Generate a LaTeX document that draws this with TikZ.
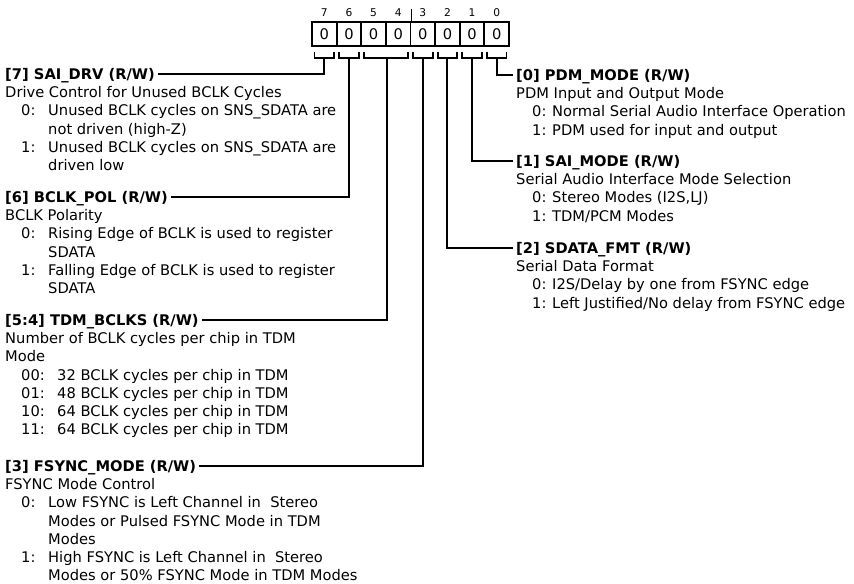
\documentclass[tikz,border=0pt]{standalone}
\usepackage{fontspec}
\setmainfont{DejaVu Sans}
\usetikzlibrary{positioning,calc}

% one register field: first line spans both columns, then "n: text" rows
\newcommand{\bitdesc}[2]{\begin{tabular}[t]{@{\hspace{12pt}}p{#1}@{}l@{}}#2\end{tabular}}
\newcommand{\first}[1]{\multicolumn{2}{@{}l@{}}{#1}}

\tikzset{
  hdr/.style={font=\fontsize{11}{13.7}\selectfont\bfseries,inner xsep=2pt,inner ysep=0pt,text height=8pt,text depth=0pt},
  desc/.style={font=\fontsize{11}{13.7}\selectfont,inner xsep=2pt,inner ysep=0pt,anchor=base west},
  cell/.style={draw,line width=1.4pt,minimum width=18.47pt,minimum height=18pt,inner sep=0pt,font=\fontsize{11}{12}\selectfont},
  bitno/.style={font=\fontsize{8}{9}\selectfont,inner sep=0pt},
  wire/.style={line width=1.4pt}
}

\begin{document}
\begin{tikzpicture}[x=0.75pt,y=-0.75pt]
\useasboundingbox (0,0) rectangle (854,584);

% register cells and bit numbers
\foreach \b [count=\i from 0] in {7,6,5,4,3,2,1,0}{
  \node[cell] (c\b) at ({324.3+\i*24.625},34) {0};
  \node[bitno,above=3pt of c\b] (n\b) {\b};
}
\draw[line width=1pt] (c4.north east) -- ++(0,-12);

% brackets under the cells
\foreach \b in {7,6,3,2,1,0}{
  \draw[wire] ([xshift=2.6pt,yshift=-3.5pt]c\b.south west) |- ([yshift=-8.25pt]c\b.south) coordinate (s\b) -| ([xshift=-2.6pt,yshift=-3.5pt]c\b.south east);
}
\draw[wire] ([xshift=2.6pt,yshift=-3.5pt]c5.south west) |- ([yshift=-8.25pt]c5.south east) coordinate (s54) -| ([xshift=-2.6pt,yshift=-3.5pt]c4.south east);

% left fields
\node[hdr,anchor=west] (h7) at (2.3,74) {[7] SAI\_DRV (R/W)};
\node[desc] (d7) at ([yshift=-13.7pt]h7.base west) {\bitdesc{20.25pt}{
  \first{Drive Control for Unused BCLK Cycles}\\
  0: & Unused BCLK cycles on SNS\_SDATA are\\
     & not driven (high-Z)\\
  1: & Unused BCLK cycles on SNS\_SDATA are\\
     & driven low}};

\node[hdr,anchor=west] (h6) at (2.3,197) {[6] BCLK\_POL (R/W)};
\node[desc] (d6) at ([yshift=-13.7pt]h6.base west) {\bitdesc{20.25pt}{
  \first{BCLK Polarity}\\
  0: & Rising Edge of BCLK is used to register\\
     & SDATA\\
  1: & Falling Edge of BCLK is used to register\\
     & SDATA}};

\node[hdr,anchor=west] (h54) at (2.3,320) {[5:4] TDM\_BCLKS (R/W)};
\node[desc] (d54) at ([yshift=-13.7pt]h54.base west) {\bitdesc{27pt}{
  \first{Number of BCLK cycles per chip in TDM}\\
  \first{Mode}\\
  00: & 32 BCLK cycles per chip in TDM\\
  01: & 48 BCLK cycles per chip in TDM\\
  10: & 64 BCLK cycles per chip in TDM\\
  11: & 64 BCLK cycles per chip in TDM}};

\node[hdr,anchor=west] (h3) at (2.3,466) {[3] FSYNC\_MODE (R/W)};
\node[desc] (d3) at ([yshift=-13.7pt]h3.base west) {\bitdesc{20.25pt}{
  \first{FSYNC Mode Control}\\
  0: & Low FSYNC is Left Channel in \ Stereo\\
     & Modes or Pulsed FSYNC Mode in TDM\\
     & Modes\\
  1: & High FSYNC is Left Channel in \ Stereo\\
     & Modes or 50\% FSYNC Mode in TDM Modes}};

% right fields
\node[hdr,anchor=west] (h0) at (513.3,75) {[0] PDM\_MODE (R/W)};
\node[desc] (d0) at ([yshift=-13.7pt]h0.base west) {\bitdesc{15pt}{
  \first{PDM Input and Output Mode}\\
  0: & Normal Serial Audio Interface Operation\\
  1: & PDM used for input and output}};

\node[hdr,anchor=west] (h1) at (513.3,161) {[1] SAI\_MODE (R/W)};
\node[desc] (d1) at ([yshift=-13.7pt]h1.base west) {\bitdesc{15pt}{
  \first{Serial Audio Interface Mode Selection}\\
  0: & Stereo Modes (I2S,LJ)\\
  1: & TDM/PCM Modes}};

\node[hdr,anchor=west] (h2) at (513.3,248) {[2] SDATA\_FMT (R/W)};
\node[desc] (d2) at ([yshift=-13.7pt]h2.base west) {\bitdesc{15pt}{
  \first{Serial Data Format}\\
  0: & I2S/Delay by one from FSYNC edge\\
  1: & Left Justified/No delay from FSYNC edge}};

% leaders from the brackets to the fields
\draw[wire] (s7) |- (h7.east);
\draw[wire] (s6) |- (h6.east);
\draw[wire] (s54) |- (h54.east);
\draw[wire] (s3) |- (h3.east);
\draw[wire] (s2) |- (h2.west);
\draw[wire] (s1) |- (h1.west);
\draw[wire] (s0) |- (h0.west);
\end{tikzpicture}
\end{document}
